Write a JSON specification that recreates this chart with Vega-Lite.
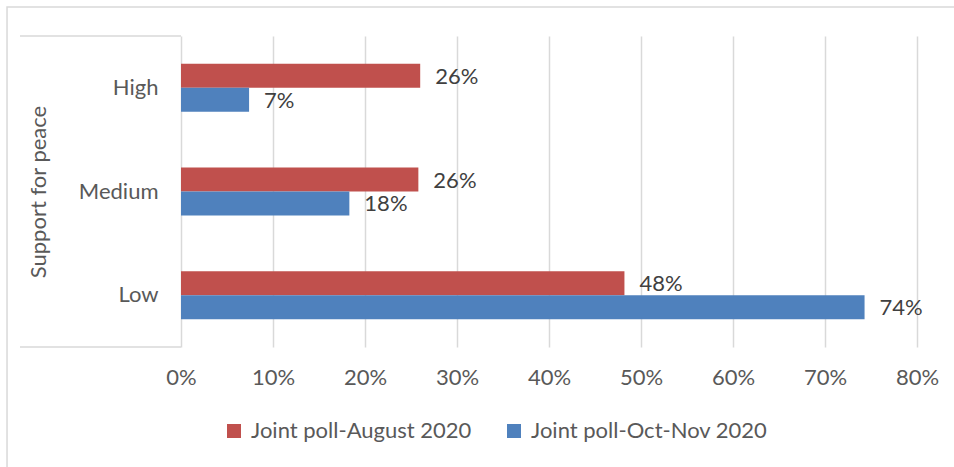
{
  "$schema": "https://vega.github.io/schema/vega-lite/v6.json",
  "width": 736,
  "height": 311,
  "autosize": {"type": "none"},
  "padding": {"left": 181, "top": 36, "right": 37, "bottom": 120},
  "background": "white",
  "config": {
    "font": "Lato",
    "view": {"stroke": null},
    "axis": {"labelFont": "Lato", "titleFont": "Lato"},
    "legend": {"labelFont": "Lato"}
  },
  "datasets": {
    "poll": [
      {"support": "High", "series": "Joint poll-August 2020", "value": 0.26},
      {"support": "High", "series": "Joint poll-Oct-Nov 2020", "value": 0.074},
      {"support": "Medium", "series": "Joint poll-August 2020", "value": 0.258},
      {"support": "Medium", "series": "Joint poll-Oct-Nov 2020", "value": 0.183},
      {"support": "Low", "series": "Joint poll-August 2020", "value": 0.482},
      {"support": "Low", "series": "Joint poll-Oct-Nov 2020", "value": 0.743}
    ],
    "frame": [
      {"kind": "line", "fx": -0.175, "fx2": 0, "fy": 1, "fy2": 1},
      {"kind": "line", "fx": -0.175, "fx2": 0, "fy": 0, "fy2": 0},
      {"kind": "box", "fx": -0.1891, "fx2": 0.9, "fy": 1.0932, "fy2": -0.6}
    ]
  },
  "layer": [
    {
      "data": {"name": "frame"},
      "transform": [{"filter": "datum.kind === 'box'"}],
      "mark": {"type": "rect", "fillOpacity": 0, "stroke": "#d9d9d9", "strokeWidth": 1.5},
      "encoding": {
        "x": {"field": "fx", "type": "quantitative", "scale": {"domain": [0, 0.8], "nice": false},
          "axis": {"title": null, "format": ".0%", "values": [0, 0.1, 0.2, 0.3, 0.4, 0.5, 0.6, 0.7, 0.8], "labelFontSize": 22, "labelColor": "#595959", "labelPadding": 20, "labelFlush": false, "ticks": false, "domain": false, "grid": true, "gridColor": "#d9d9d9", "gridWidth": 1.5}},
        "x2": {"field": "fx2"},
        "y": {"field": "fy", "type": "quantitative", "scale": {"domain": [0, 1], "nice": false}, "axis": null},
        "y2": {"field": "fy2"}
      }
    },
    {
      "data": {"name": "frame"},
      "transform": [{"filter": "datum.kind === 'line'"}],
      "mark": {"type": "rule", "stroke": "#d9d9d9", "strokeWidth": 1.5},
      "encoding": {
        "x": {"field": "fx", "type": "quantitative", "scale": {"domain": [0, 0.8], "nice": false},
          "axis": {"title": null, "format": ".0%", "values": [0, 0.1, 0.2, 0.3, 0.4, 0.5, 0.6, 0.7, 0.8], "labelFontSize": 22, "labelColor": "#595959", "labelPadding": 20, "labelFlush": false, "ticks": false, "domain": false, "grid": true, "gridColor": "#d9d9d9", "gridWidth": 1.5}},
        "x2": {"field": "fx2"},
        "y": {"field": "fy", "type": "quantitative", "scale": {"domain": [0, 1], "nice": false}, "axis": null}
      }
    },
    {
      "data": {"name": "poll"},
      "layer": [
        {
          "mark": {"type": "bar"},
          "encoding": {
            "y": {
              "field": "support", "type": "nominal", "sort": ["High", "Medium", "Low"],
              "scale": {"paddingInner": 0.537, "paddingOuter": 0.2685},
              "axis": {
                "title": "Support for peace", "titleFontSize": 22, "titleFontWeight": "normal",
                "titleColor": "#595959", "titlePadding": 28,
                "labelFontSize": 22, "labelColor": "#595959", "labelPadding": 23,
                "ticks": false, "domain": false, "grid": false
              }
            },
            "yOffset": {"field": "series", "type": "nominal", "sort": ["Joint poll-August 2020", "Joint poll-Oct-Nov 2020"], "scale": {"paddingInner": 0, "paddingOuter": 0}},
            "x": {
              "field": "value", "type": "quantitative",
              "scale": {"domain": [0, 0.8], "nice": false},
              "axis": {"title": null, "format": ".0%", "values": [0, 0.1, 0.2, 0.3, 0.4, 0.5, 0.6, 0.7, 0.8], "labelFontSize": 22, "labelColor": "#595959", "labelPadding": 20, "labelFlush": false, "ticks": false, "domain": false, "grid": true, "gridColor": "#d9d9d9", "gridWidth": 1.5}
            },
            "color": {
              "field": "series", "type": "nominal",
              "scale": {"domain": ["Joint poll-August 2020", "Joint poll-Oct-Nov 2020"], "range": ["#C0504D", "#4F81BD"]},
              "legend": {
                "title": null, "orient": "none", "direction": "horizontal",
                "legendX": 42, "legendY": 384,
                "symbolType": "square", "symbolSize": 196, "symbolStrokeWidth": 0,
                "labelFontSize": 22, "labelColor": "#595959", "labelOffset": 6, "columnPadding": 31, "labelLimit": 400
              }
            }
          }
        },
        {
          "mark": {"type": "text", "align": "left", "baseline": "middle", "dx": 15, "dy": 1, "fontSize": 22, "color": "#404040", "font": "Lato"},
          "encoding": {
            "y": {"field": "support", "type": "nominal", "sort": ["High", "Medium", "Low"]},
            "yOffset": {"field": "series", "type": "nominal", "sort": ["Joint poll-August 2020", "Joint poll-Oct-Nov 2020"]},
            "x": {"field": "value", "type": "quantitative", "scale": {"domain": [0, 0.8], "nice": false}},
            "text": {"field": "value", "type": "quantitative", "format": ".0%"}
          }
        }
      ]
    }
  ],
  "resolve": {"scale": {"y": "independent"}}
}
